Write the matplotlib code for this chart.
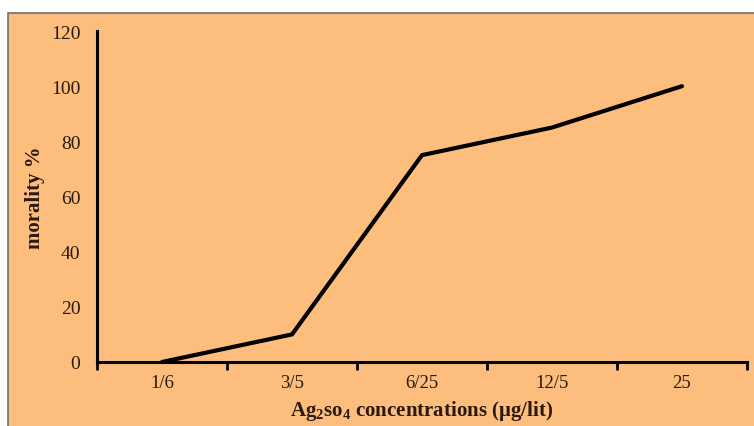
import numpy as np
from matplotlib import pyplot as plt
from matplotlib.patches import Rectangle

# concentrations and mortality values
conc = ['1/6', '3/5', '6/25', '12/5', '25']
mortality = [0, 10, 75, 85, 100]

serif = 'Liberation Serif'
plt.rcParams['mathtext.fontset'] = 'custom'
plt.rcParams['mathtext.rm'] = serif
plt.rcParams['mathtext.it'] = serif + ':italic'
plt.rcParams['mathtext.bf'] = serif + ':bold'

W, H = 754, 427
fig = plt.figure(figsize=(W / 100, H / 100), dpi=100)
fig.patch.set_facecolor('white')
bg = '#fdbd7d'
# orange chart area with grey frame
fig.patches.append(Rectangle((8 / W, -0.01), 1.0, (H - 14) / H + 0.01, transform=fig.transFigure,
                             facecolor=bg, edgecolor='#707070', linewidth=1.2, zorder=-5))

ax = fig.add_axes([97 / W, (H - 363) / H, (747 - 97) / W, (363 - 32) / H])
ax.set_facecolor('none')
ax.set_zorder(2)

x = np.arange(len(conc))
ax.plot(x, mortality, color='black', linewidth=3.0, solid_capstyle='round')

ax.set_xlim(-0.5, len(conc) - 0.5)
ax.set_ylim(0, 120)
ax.set_yticks(np.arange(0, 121, 20))
ax.set_xticks(x)
ax.set_xticklabels(conc)
ax.set_xticks(np.arange(-0.5, len(conc), 1.0), minor=True)

for s in ['top', 'right']:
    ax.spines[s].set_visible(False)
for s in ['left', 'bottom']:
    ax.spines[s].set_linewidth(2.2)
    ax.spines[s].set_color('black')

txt = '#2a1a10'
ax.tick_params(axis='y', length=0, pad=12, labelsize=14)
ax.tick_params(axis='x', which='major', length=0, pad=9, labelsize=13.5)
ax.tick_params(axis='x', which='minor', length=6, width=2, direction='out')
for lab in ax.get_xticklabels() + ax.get_yticklabels():
    lab.set_fontfamily(serif)
    lab.set_color(txt)

ax.set_ylabel('morality %', fontfamily=serif, fontweight='bold', fontsize=15,
              labelpad=4, color=txt)
ax.set_xlabel(r'Ag$_\mathbf{2}$so$_\mathbf{4}$ concentrations ($\mathbf{\mu}$g/lit)',
              fontfamily=serif, fontweight='bold', fontsize=15, labelpad=5, color=txt)

fig.savefig('out.png', dpi=100, facecolor=fig.get_facecolor())
